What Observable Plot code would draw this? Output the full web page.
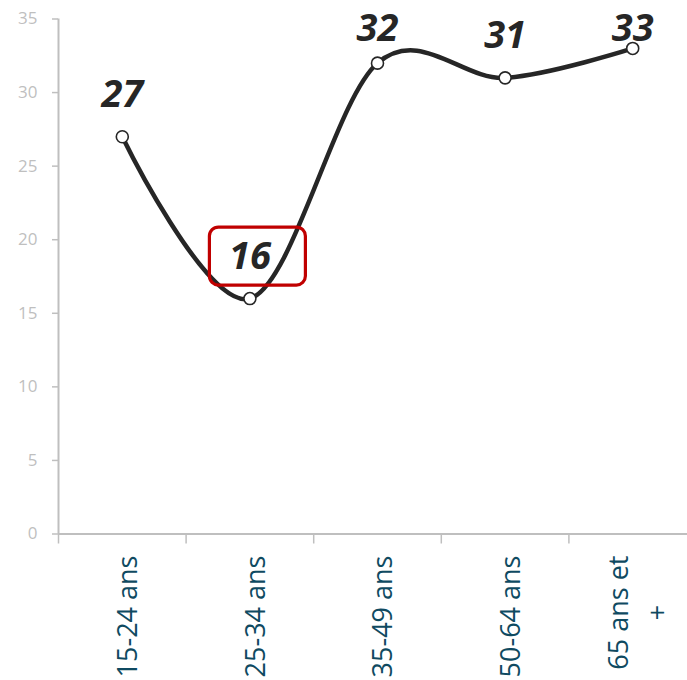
<!DOCTYPE html>
<html>
<head>
<meta charset="utf-8">
<script src="https://cdn.jsdelivr.net/npm/d3@7"></script>
<script src="https://cdn.jsdelivr.net/npm/@observablehq/plot@0.6"></script>
<style>
  html, body { margin: 0; padding: 0; background: #fff; overflow: hidden; }
  #chart { width: 696px; }
  #chart svg { display: block; max-width: none !important; width: 696px !important; height: 680px !important; }
</style>
</head>
<body>
<div id="chart"></div>
<script>
const categories = ["15-24 ans", "25-34 ans", "35-49 ans", "50-64 ans", "65 ans et +"];
const tickLabels = ["15-24 ans", "25-34 ans", "35-49 ans", "50-64 ans", "65 ans et\n+"];
const values = [27, 16, 32, 31, 33];
const yTicks = [0, 5, 10, 15, 20, 25, 30, 35];
const highlighted = ["25-34 ans"];

const data = categories.map((c, i) => ({ cat: c, label: tickLabels[i], value: values[i], pos: i + 0.5 }));
const boundaries = categories.map((c, i) => i).concat([categories.length]);

const gray = "#bfbfbf";
const ink = "#262626";
const teal = "#0f4a61";

const chart = Plot.plot({
  width: 696,
  height: 680,
  marginLeft: 58,
  marginRight: 0,
  marginTop: 18.5,
  marginBottom: 146.5,
  style: { fontFamily: "'Open Sans', sans-serif", background: "#fff", maxWidth: "none" },
  x: { type: "linear", domain: [0, categories.length] },
  y: { domain: [0, 35] },
  marks: [
    Plot.axisY({ ticks: yTicks, tickSize: 6, tickPadding: 15, fontSize: 17, color: gray, strokeWidth: 1.5, label: null }),
    Plot.axisX({ ticks: boundaries, tickSize: 10, tickFormat: () => "", color: gray, strokeWidth: 1.5, label: null }),
    Plot.ruleX([0], { stroke: gray, strokeWidth: 2 }),
    Plot.ruleY([0], { stroke: gray, strokeWidth: 2 }),
    Plot.line(data, { x: "pos", y: "value", curve: "cardinal", stroke: ink, strokeWidth: 4.5 }),
    Plot.dot(data, { x: "pos", y: "value", r: 6, fill: "#fff", stroke: ink, strokeWidth: 1.6 }),
    Plot.text(data, {
      x: "pos", y: d => Math.min(d.value, 31.5), text: d => String(d.value),
      dy: -42, fontSize: 38, fontWeight: "bold", fontStyle: "italic", fill: ink
    }),
    Plot.text(data, {
      x: "pos", frameAnchor: "bottom", text: "label", rotate: -90,
      textAnchor: "end", lineAnchor: "middle", lineHeight: 1.48,
      dx: 2, dy: 21.5, fontSize: 27, fill: teal, className: "xlab"
    })
  ]
});

document.getElementById("chart").appendChild(chart);

// centre secondary lines of wrapped category labels under the first line
d3.select(chart).selectAll(".xlab text").each(function () {
  const tspans = this.querySelectorAll("tspan");
  if (tspans.length > 1) {
    const len = tspans[0].getComputedTextLength();
    for (let k = 1; k < tspans.length; k++) {
      tspans[k].setAttribute("x", -len / 2);
      tspans[k].setAttribute("text-anchor", "middle");
    }
  }
});

// highlight box around the selected data label
const sx = chart.scale("x"), sy = chart.scale("y");
data.filter(d => highlighted.includes(d.cat)).forEach(d => {
  const px = sx.apply(d.pos), py = sy.apply(d.value);
  d3.select(chart).append("rect")
    .attr("x", px - 40).attr("y", py - 71)
    .attr("width", 96).attr("height", 58)
    .attr("rx", 9).attr("ry", 9)
    .attr("fill", "none").attr("stroke", "#c00000").attr("stroke-width", 3.2);
});
</script>
</body>
</html>
